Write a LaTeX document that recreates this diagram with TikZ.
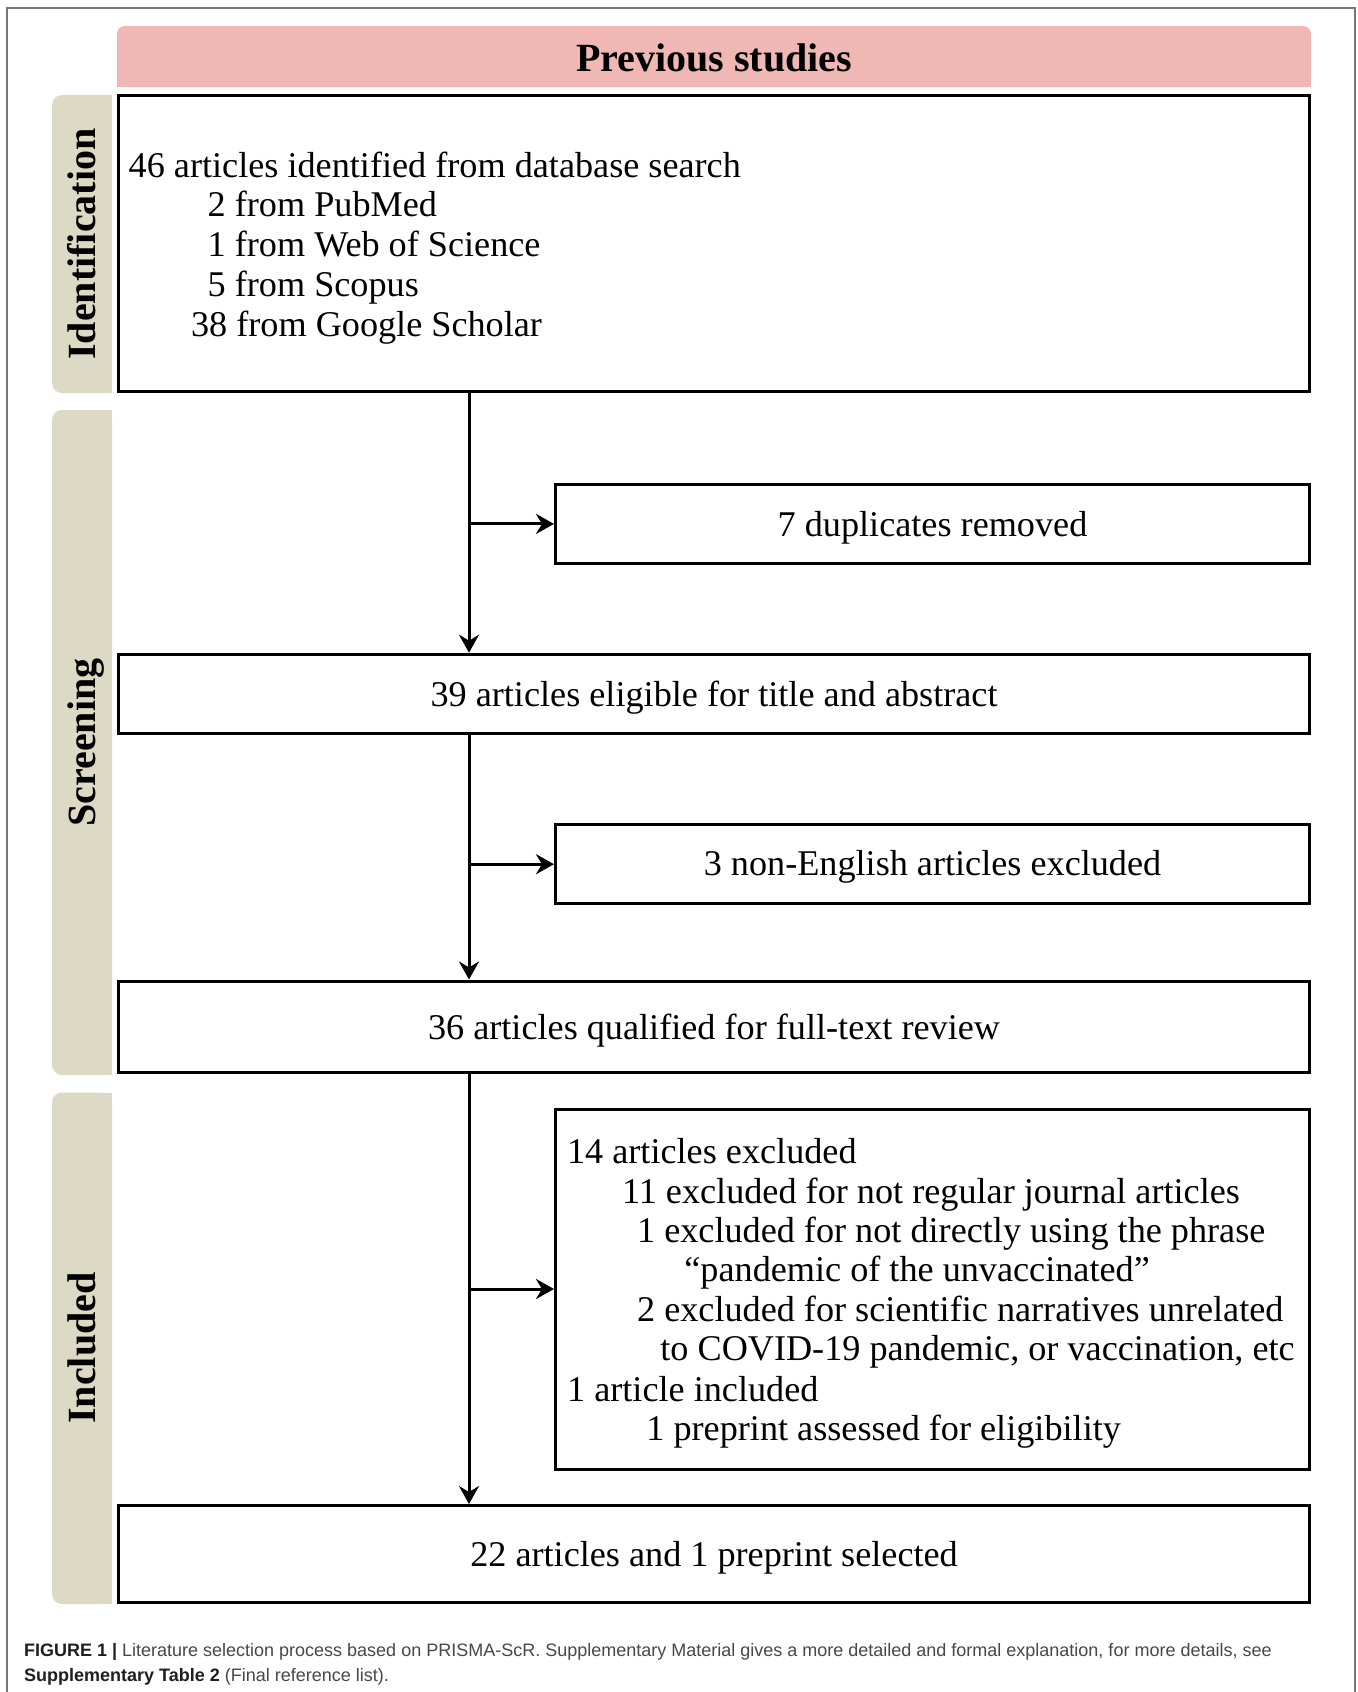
\documentclass[tikz,border=0pt]{standalone}
\usepackage{fontspec}
\setmainfont{Liberation Serif}
\setsansfont{Liberation Sans}
\usetikzlibrary{arrows.meta}
\definecolor{hdrpink}{HTML}{EFB8B5}
\definecolor{sidebeige}{HTML}{DCDAC4}
\definecolor{framegray}{HTML}{777777}
\begin{document}
\begin{tikzpicture}[x=0.5pt,y=-0.5pt,
  box/.style={draw=black, line width=1.5pt, rectangle, inner sep=0pt,
    font=\fontsize{18.1}{20}\selectfont, text depth=0pt},
  bodytxt/.style={font=\fontsize{18.1}{20}\selectfont, inner sep=0pt, anchor=base west},
  sidelbl/.style={font=\fontsize{20}{22}\selectfont\bfseries, inner sep=0pt, rotate=90, anchor=base},
  arr/.style={line width=1.5pt, -{Stealth[length=9pt,width=10pt,inset=3pt]}},
  captxt/.style={font=\sffamily\fontsize{9}{11}\selectfont, inner sep=0pt, anchor=base west, text=black!72}]
\useasboundingbox (0,0) rectangle (1358,1692);
% outer frame
\draw[framegray, line width=0.8pt] (7,8) rectangle (1355,1720);
% header
\fill[hdrpink, rounded corners=4pt] (117,26) rectangle (1311,87);
\fill[hdrpink] (117,50) rectangle (1311,87);
\node[font=\fontsize{20}{22}\selectfont\bfseries, inner sep=0pt, anchor=base] (hdr) at (714,71) {Previous studies};
% side labels
\fill[sidebeige, rounded corners=5pt] (52,95) rectangle (112,393);
\fill[sidebeige] (85,95) rectangle (112,393);
\fill[sidebeige, rounded corners=5pt] (52,410) rectangle (112,1075);
\fill[sidebeige] (85,410) rectangle (112,1075);
\fill[sidebeige, rounded corners=5pt] (52,1092.5) rectangle (112,1604);
\fill[sidebeige] (85,1092.5) rectangle (112,1604);
\node[sidelbl] (lid) at (95,244) {Identification};
\node[sidelbl] (lsc) at (95,742.5) {Screening};
\node[sidelbl] (lin) at (95,1348) {Included};
% main boxes
\node[box, minimum width=595.5pt, minimum height=148pt] (ident) at (714,243.8) {};
\node[bodytxt] (id1) at (128.3,177.2) {46 articles identified from database search};
\node[bodytxt] (id2) at (207.3,216.8) {2 from PubMed};
\node[bodytxt] (id3) at (207.3,256.6) {1 from Web of Science};
\node[bodytxt] (id4) at (207.3,296.4) {5 from Scopus};
\node[bodytxt] (id5) at (190.7,336.2) {38 from Google Scholar};
\node[box, minimum width=377pt, minimum height=39.7pt, text height=13pt] (dup) at (932.5,523.9) {7 duplicates removed};
\node[box, minimum width=595.5pt, minimum height=39.7pt, text height=12.5pt] (b39) at (714,693.9) {39 articles eligible for title and abstract};
\node[box, minimum width=377pt, minimum height=39.4pt, text height=10.8pt] (nonEng) at (932.5,864.2) {3 non-English articles excluded};
\node[box, minimum width=595.5pt, minimum height=45.75pt, text height=13pt] (b36) at (714,1026.75) {36 articles qualified for full-text review};
\node[box, minimum width=377pt, minimum height=180pt] (b14) at (932.5,1289) {};
\node[bodytxt] (ex1) at (566.7,1163.9) {14 articles excluded};
\node[bodytxt] (ex2) at (621.7,1203.9) {11 excluded for not regular journal articles};
\node[bodytxt] (ex3) at (636.7,1242.9) {1 excluded for not directly using the phrase};
\node[bodytxt] (ex4) at (684,1281.2) {“pandemic of the unvaccinated”};
\node[bodytxt] (ex5) at (636.7,1321.5) {2 excluded for scientific narratives unrelated};
\node[bodytxt] (ex6) at (660,1360.5) {to COVID-19 pandemic, or vaccination, etc};
\node[bodytxt] (ex7) at (566.7,1401.5) {1 article included};
\node[bodytxt] (ex8) at (646,1440.5) {1 preprint assessed for eligibility};
\node[box, minimum width=595.5pt, minimum height=48.5pt, text height=12pt] (b22) at (714,1554) {22 articles and 1 preprint selected};
% connectors
\coordinate (tx) at (469,0);
\draw[arr] (ident.south -| tx) -- (b39.north -| tx);
\draw[arr] (dup.west -| tx) -- (dup.west);
\draw[arr] (b39.south -| tx) -- (b36.north -| tx);
\draw[arr] (nonEng.west -| tx) -- (nonEng.west);
\draw[arr] (b36.south -| tx) -- (b22.north -| tx);
\draw[arr] (b14.west -| tx) -- (b14.west);
% caption
\node[captxt] (cap1) at (23.7,1656) {\textcolor{black!88}{\bfseries FIGURE 1 |} Literature selection process based on PRISMA-ScR. Supplementary Material gives a more detailed and formal explanation, for more details, see};
\node[captxt] (cap2) at (23.7,1681) {\textcolor{black!88}{\bfseries Supplementary Table 2} (Final reference list).};
\end{tikzpicture}
\end{document}
